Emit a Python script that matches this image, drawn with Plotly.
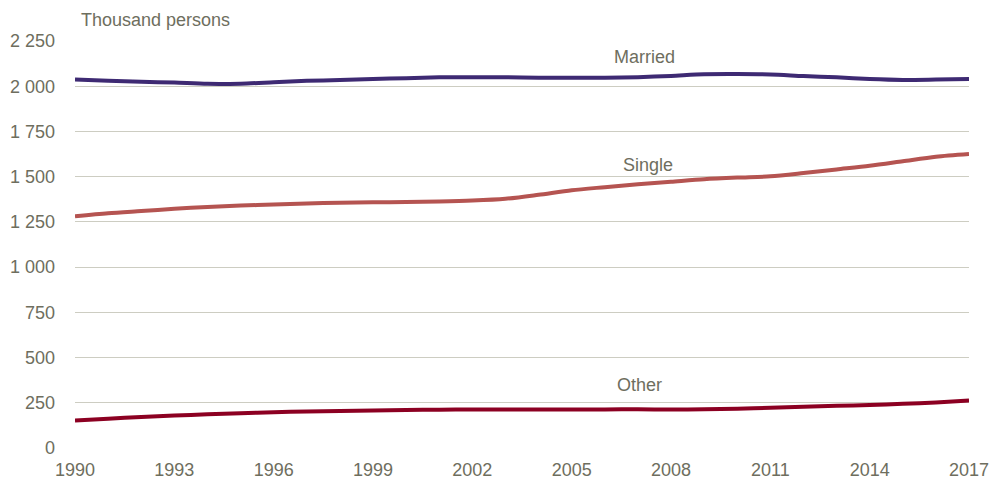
import plotly.graph_objects as go

years = list(range(1990, 2018))
married = [2037, 2030, 2025, 2020, 2013, 2014, 2022, 2030, 2034, 2040, 2044, 2049, 2050, 2050,
           2047, 2047, 2047, 2050, 2057, 2066, 2067, 2065, 2056, 2049, 2040, 2035, 2037, 2040]
single = [1281, 1298, 1310, 1322, 1333, 1340, 1346, 1352, 1356, 1358, 1360, 1363, 1368, 1378,
          1400, 1425, 1442, 1458, 1472, 1486, 1495, 1502, 1520, 1540, 1560, 1585, 1610, 1625]
other = [152, 162, 171, 179, 186, 192, 198, 202, 205, 208, 210, 212, 213, 213,
         213, 213, 213, 214, 213, 214, 217, 222, 228, 233, 238, 244, 252, 262]

series_names = ["Married", "Single", "Other"]
series_colors = ["#3e2a73", "#b55451", "#8c0022"]
label_x = [2007.2, 2007.3, 2007.05]
label_y = [2161, 1565, 350]

y_tickvals = [0, 250, 500, 750, 1000, 1250, 1500, 1750, 2000, 2250]
y_ticktext = ["0", "250", "500", "750", "1 000", "1 250", "1 500", "1 750", "2 000", "2 250"]
x_tickvals = list(range(1990, 2018, 3))

FONT = "Liberation Sans, Arial, sans-serif"
FS = 18
TXT = "#6e6e5e"

fig = go.Figure()
for name, vals, col in zip(series_names, [married, single, other], series_colors):
    fig.add_trace(go.Scatter(x=years, y=vals, mode="lines", name=name,
                             line=dict(color=col, width=4, shape="spline", smoothing=0.8)))

for name, lx, ly in zip(series_names, label_x, label_y):
    fig.add_annotation(x=lx, y=ly, xref="x", yref="y", text=name, showarrow=False,
                       font=dict(size=FS, color=TXT, family=FONT), xanchor="center", yanchor="middle")

fig.add_annotation(x=0, y=1.052, xref="paper", yref="paper", text="Thousand persons",
                   showarrow=False, xanchor="left", yanchor="middle", xshift=4,
                   font=dict(size=FS, color=TXT, family=FONT))

fig.update_layout(
    width=989, height=481,
    margin=dict(l=75, r=20, t=41, b=33),
    paper_bgcolor="white", plot_bgcolor="white",
    showlegend=False,
    font=dict(family=FONT, size=FS, color=TXT),
    xaxis=dict(range=[1990, 2017], tickvals=x_tickvals, showgrid=False, zeroline=False,
               showline=False, ticks="", automargin=False, ticklabeloverflow="allow",
               ticklabelstandoff=9, tickfont=dict(size=FS, color=TXT, family=FONT)),
    yaxis=dict(range=[0, 2250], tickvals=y_tickvals, ticktext=y_ticktext, showgrid=True,
               gridcolor="#cdcdc2", gridwidth=1, zeroline=False, showline=False, ticks="",
               automargin=False, ticklabelstandoff=19,
               tickfont=dict(size=FS, color=TXT, family=FONT)),
)

fig.write_html(
    "out.html",
    config={"displayModeBar": False},
    post_script="document.body.style.margin='0';document.documentElement.style.overflow='hidden';document.body.style.overflow='hidden';",
)
